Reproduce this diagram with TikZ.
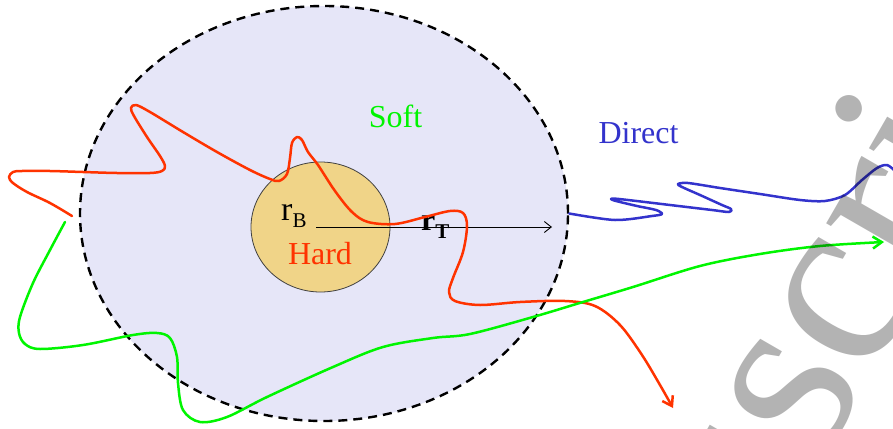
\documentclass[tikz,border=0pt]{standalone}
\usepackage{fontspec}
\setmainfont{Liberation Serif}
\usetikzlibrary{arrows.meta,shapes.geometric}
\definecolor{softfill}{RGB}{230,230,248}
\definecolor{hardfill}{RGB}{240,212,136}
\definecolor{hardred}{RGB}{255,51,0}
\definecolor{softgreen}{RGB}{0,245,0}
\definecolor{directblue}{RGB}{51,51,204}
\definecolor{wmgrey}{RGB}{179,179,179}
\tikzset{
  region/.style={ellipse, inner sep=0pt, minimum width=488pt, minimum height=415pt,
    draw=black, line width=2.4pt, dash pattern=on 9pt off 6pt, fill=softfill},
  core/.style={ellipse, inner sep=0pt, minimum width=139pt, minimum height=130pt,
    draw=black!75, line width=0.8pt, fill=hardfill},
  track/.style={line width=2.5pt, line cap=round, line join=round},
  barb/.style={-{Straight Barb[length=9pt,width=12pt,line width=2.5pt]}},
  lbl/.style={inner sep=0pt, font=\fontsize{32}{36}\selectfont},
}
\begin{document}
\begin{tikzpicture}[x=1pt,y=-1pt]
\useasboundingbox (0,0) rectangle (893,428);
\clip (0,0) rectangle (893,428);

\node[region] (soft) at (324,213.5) {};
\node[core] (hard) at (320.5,227) {};

% radius arrow
\coordinate (rtend) at (552,227);
\draw[line width=0.9pt, -{Straight Barb[length=7pt,width=11pt,line width=0.9pt]}] (316,227) -- (rtend);

% labels
\node[lbl, text=softgreen, anchor=base] (softlbl) at (395.5,127) {Soft};
\node[lbl, text=directblue, anchor=base] (directlbl) at (638.5,143) {Direct};
\node[lbl, text=hardred, anchor=base] (hardlbl) at (320,264) {Hard};
\node[lbl, anchor=base west, font=\fontsize{34}{36}\selectfont] (rb) at (281,220) {r\raisebox{-7pt}{\fontsize{21}{21}\selectfont B}};
\node[lbl, anchor=base west] (rt) at (421,230) {\textbf{r}\raisebox{-8pt}{\fontsize{21}{21}\selectfont\bfseries T}};

% hard (red) track
\draw[track, hardred, barb] plot[smooth, tension=0.55] coordinates {
 (72,216) (50,203) (27,192) (13,183) (9,177) (13,172) (22,171) (50,171) (83,172)
 (117,173) (150,173) (162,171) (165,166) (160,156) (147,137) (134,116) (131,108)
 (136,105) (150,112) (183,132) (217,152) (250,170) (270,179) (279,181) (287,174)
 (290,158) (292,143) (297,137) (302,140) (308,152) (318,165) (335,191) (352,212)
 (368,222) (395,224) (425,217) (450,211) (463,213) (467,226) (463,252) (453,278)
 (449,292) (455,301) (480,305) (520,302) (565,301) (595,306) (620,325) (642,355)
 (660,385) (673,408)};

% soft (green) track
\draw[track, softgreen, barb] plot[smooth, tension=0.55] coordinates {
 (65,222) (50,250) (33,283) (20,317) (19,333) (25,344) (40,349) (83,345) (133,335)
 (157,333) (170,338) (177,357) (178,383) (183,410) (200,422) (227,417) (267,397)
 (333,367) (383,347) (433,338) (470,334) (533,317) (583,302) (633,287) (700,266)
 (760,254) (820,246) (884,242)};

% direct (blue) track
\draw[track, directblue] plot[smooth, tension=0.5] coordinates {
 (soft.east) (615,220) (652,216) (662,214) (656,210) (637,206) (616,201) (611,199)
 (619,199) (670,205) (712,210) (729,212) (731,209) (722,205) (700,195) (682,187)
 (678,184) (688,183) (720,188) (760,194) (800,200) (825,201) (845,195) (862,180)
 (877,168) (887,165) (895,171)};

% watermark
\begin{scope}[blend mode=multiply]
\node[rotate=60, anchor=base west, inner sep=0pt, text=wmgrey,
  font=\fontsize{250}{250}\selectfont] (wm) at (819,466) {\llap{Manu}script};
\end{scope}
\end{tikzpicture}
\end{document}
